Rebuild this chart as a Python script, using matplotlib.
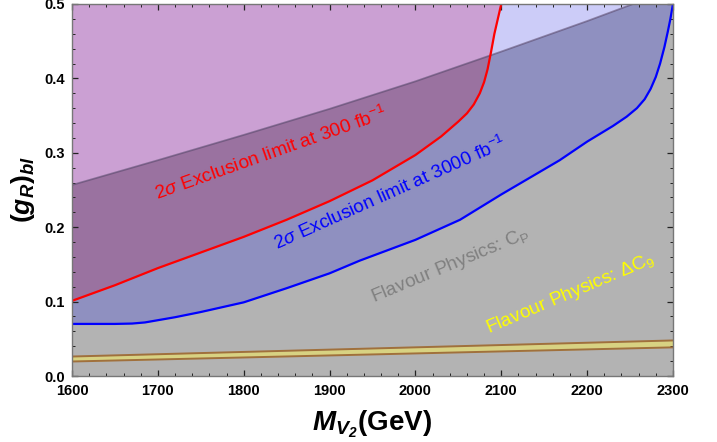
import numpy as np
import matplotlib
matplotlib.use("Agg")
import matplotlib.pyplot as plt

plt.rcParams['font.family'] = ['Liberation Sans', 'DejaVu Sans']
plt.rcParams['mathtext.fontset'] = 'custom'
plt.rcParams['mathtext.rm'] = 'Liberation Sans:bold'
plt.rcParams['mathtext.it'] = 'Liberation Sans:italic'
plt.rcParams['mathtext.bf'] = 'Liberation Sans:bold:italic'
plt.rcParams['mathtext.sf'] = 'Liberation Sans'

# ---- data ----
# 2 sigma exclusion at 300 fb^-1 (red)
red_m = [1600, 1650, 1700, 1750, 1800, 1850, 1900, 1950, 2000, 2030, 2050,
         2060, 2068, 2075, 2080, 2084, 2088, 2092, 2096, 2100]
red_g = [0.101, 0.122, 0.145, 0.166, 0.187, 0.210, 0.235, 0.263, 0.297, 0.322, 0.342,
         0.353, 0.365, 0.380, 0.395, 0.412, 0.435, 0.460, 0.480, 0.500]

# 2 sigma exclusion at 3000 fb^-1 (blue)
blue_m = [1600, 1650, 1670, 1685, 1700, 1720, 1750, 1800, 1850, 1900, 1935, 2000, 2052, 2100,
          2168, 2200, 2230, 2246, 2258, 2267, 2274, 2280, 2285, 2290, 2294, 2297, 2300]
blue_g = [0.070, 0.070, 0.0705, 0.072, 0.075, 0.079, 0.086, 0.099, 0.118, 0.138, 0.155, 0.183, 0.210, 0.244,
          0.290, 0.315, 0.336, 0.3485, 0.360, 0.372, 0.386, 0.402, 0.420, 0.442, 0.463, 0.480, 0.500]

# flavour physics C_P bound
cp_m = [1600, 1700, 1800, 1900, 2000, 2100, 2200, 2300]
cp_g = [0.2567, 0.290, 0.324, 0.359, 0.396, 0.436, 0.477, 0.520]

# flavour physics Delta C9 band
band_m = [1600, 2300]
band_lo = [0.0195, 0.0385]
band_hi = [0.0262, 0.0478]

x_ticks = [1600, 1700, 1800, 1900, 2000, 2100, 2200, 2300]
y_ticks = [0.0, 0.1, 0.2, 0.3, 0.4, 0.5]

# colours
c_plum = '#CBA0D3'
c_lav = '#CCCCF8'
c_grey = '#B3B3B3'
c_mauve = '#9A72A0'
c_bgrey = '#8F90C0'

fig = plt.figure(figsize=(7.17, 4.42), dpi=100)
ax = fig.add_axes([0.1004, 0.1493, 0.8382, 0.8417])

# regions above the curves
ax.fill_between(blue_m, blue_g, 0.5, color=c_lav, lw=0)
ax.fill_between(red_m, red_g, 0.5, color=c_plum, lw=0)

# C_P region (below line)
grey = ax.fill_between(cp_m, 0, cp_g, color=c_grey, lw=0)
clip = grey.get_paths()[0]

b2 = ax.fill_between(blue_m, blue_g, 0.5, color=c_bgrey, lw=0)
b2.set_clip_path(clip, ax.transData)
r2 = ax.fill_between(red_m, red_g, 0.5, color=c_mauve, lw=0)
r2.set_clip_path(clip, ax.transData)

ax.plot(cp_m, cp_g, color='#554466', alpha=0.55, lw=1.3)
ax.plot(red_m, red_g, color='#FF0000', lw=1.6)
ax.plot(blue_m, blue_g, color='#0000FF', lw=1.6)

# Delta C9 band
ax.fill_between(band_m, band_lo, band_hi, color='#D8D282', lw=0)
ax.plot(band_m, band_lo, color='#A0703C', lw=1.4)
ax.plot(band_m, band_hi, color='#A0703C', lw=1.4)

# labels inside the plot
ax.text(1699, 0.2366, r'2$\sigma$ Exclusion limit at 300 fb$^{\mathsf{-1}}$', color='#FF0000',
        fontsize=13.8, rotation=19.5, rotation_mode='anchor', ha='left', va='baseline')
ax.text(1839, 0.1694, r'2$\sigma$ Exclusion limit at 3000 fb$^{\mathsf{-1}}$', color='#0000FF',
        fontsize=13.6, rotation=24, rotation_mode='anchor', ha='left', va='baseline')
ax.text(1951, 0.0995, r'Flavour Physics: C$_{\mathsf{P}}$', color='#808080',
        fontsize=13.8, rotation=22.6, rotation_mode='anchor', ha='left', va='baseline')
ax.text(2085, 0.0578, r'Flavour Physics: ΔC$_{\mathsf{9}}$', color='#FFFF00',
        fontsize=13.8, rotation=23, rotation_mode='anchor', ha='left', va='baseline')

ax.set_xlim(1600, 2300)
ax.set_ylim(0, 0.5)
ax.set_xticks(x_ticks)
ax.set_yticks(y_ticks)
ax.set_xticklabels([str(v) for v in x_ticks], fontweight='bold', fontsize=10.5)
ax.set_yticklabels(['%.1f' % v for v in y_ticks], fontweight='bold', fontsize=10.5)
ax.set_xticks(np.arange(1600, 2301, 20), minor=True)
ax.set_yticks(np.arange(0, 0.501, 0.02), minor=True)
ax.tick_params(which='both', direction='in', top=True, right=True, color='#222222')
ax.tick_params(which='major', length=4.5, width=0.9)
ax.tick_params(which='minor', length=2.5, width=0.7)
ax.tick_params(axis='x', which='major', pad=6)
ax.tick_params(axis='y', which='major', pad=5)
for s in ax.spines.values():
    s.set_color('#777777')
    s.set_linewidth(1.0)

ax.set_xlabel(r'$\mathbf{M_{V_2}}$(GeV)', fontsize=20, fontweight='bold', labelpad=7)
ax.set_ylabel(r'$(\mathbf{g_R})_{\mathbf{bl}}$', fontsize=19, labelpad=5)

fig.savefig('out.png', dpi=100)
